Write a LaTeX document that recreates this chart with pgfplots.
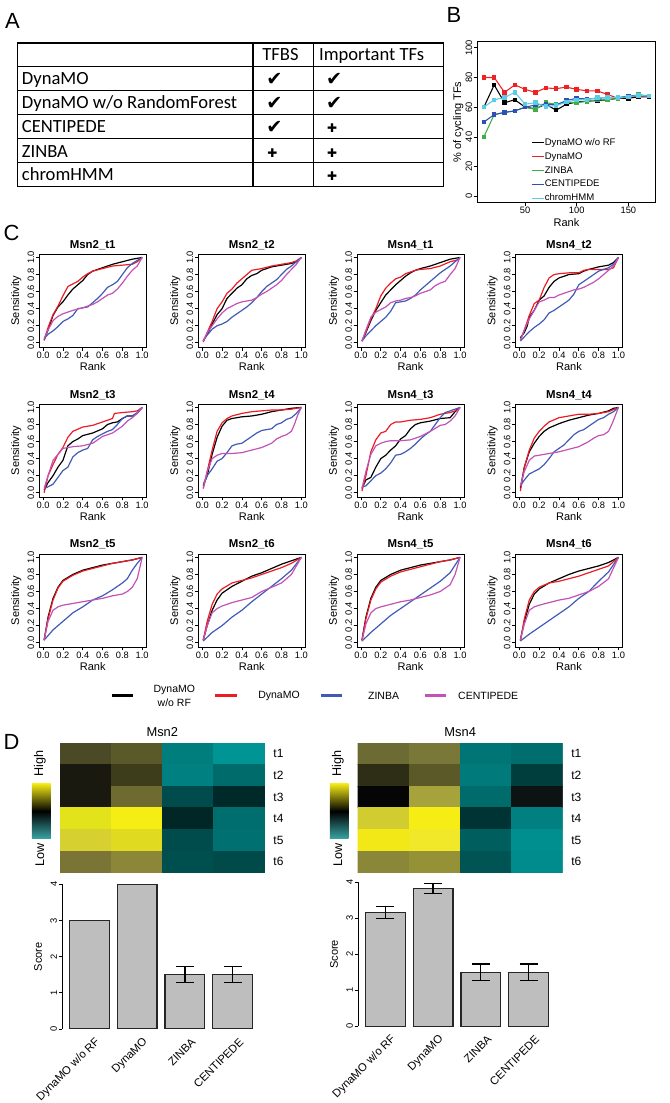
\documentclass[border=0pt]{standalone}
\usepackage{pgfplots}
\pgfplotsset{compat=1.18}
\usepackage{fontspec}
\setmainfont{Liberation Sans}
\newfontfamily\tabfont{Carlito}
\newfontfamily\symfont{DejaVu Sans}
\newcommand\fs[1]{\fontsize{#1}{#1}\selectfont}

\definecolor{cred}{HTML}{ED1C24}
\definecolor{cblue}{HTML}{3F5BB5}
\definecolor{cmag}{HTML}{C252B5}
\definecolor{bred}{HTML}{EE2222}
\definecolor{bgreen}{HTML}{3CB043}
\definecolor{bblue}{HTML}{2F4FB5}
\definecolor{bcyan}{HTML}{5CCBE8}
\definecolor{bargray}{HTML}{BEBEBE}
\definecolor{keyyel}{HTML}{F2E816}
\definecolor{keyteal}{HTML}{3AA3A3}

\pgfplotsset{
  rstyle/.style={
    scale only axis,
    tick align=outside,
    xtick pos=left, ytick pos=left,
    major tick length=2.6pt,
    /pgf/number format/assume math mode=true,
    tick label style={font=\fs{7}},
    label style={font=\fs{8.3}},
    yticklabel style={rotate=90, anchor=south, inner sep=1pt},
    xticklabel style={inner sep=1pt},
    axis line style={line width=0.7pt},
    every tick/.style={black, line width=0.5pt},
  },
  roc/.style={rstyle, anchor=north west,
    width=80.55pt, height=70pt,
    xmin=-0.04, xmax=1.04, ymin=-0.05, ymax=1.04,
    xtick={0,0.2,0.4,0.6,0.8,1}, ytick={0,0.2,0.4,0.6,0.8,1},
    tick label style={/pgf/number format/.cd, fixed, fixed zerofill, precision=1, /tikz/.cd},
    xlabel=Rank, ylabel=Sensitivity,
    xlabel style={at={([yshift=-15pt]axis description cs:0.5,0)}, anchor=center},
    ylabel style={at={([xshift=-17.25pt]axis description cs:0,0.5)}, anchor=center},
    title style={at={(0.5,1)}, anchor=base, yshift=-1.5pt, inner sep=0pt, font=\bfseries\fs{8.6}},
    every axis plot/.append style={line width=0.9pt, mark=none},
  },
  heat/.style={anchor=north west, scale only axis, width=154.3pt, height=97.6pt,
    xmin=-0.5, xmax=3.5, ymin=-0.5, ymax=5.5, y dir=reverse,
    axis line style={draw=none}, xtick=\empty,
    ytick={0,1,2,3,4,5}, yticklabels={t1,t2,t3,t4,t5,t6},
    yticklabel pos=right, ytick pos=right, major tick length=0pt,
    yticklabel style={anchor=west, xshift=3pt, font=\fs{9}},
    title style={at={(0.5,1)}, anchor=center, yshift=2pt, font=\fs{9.7}},
  },
  bars/.style={rstyle, anchor=south west, width=149pt, height=108.9pt,
    xmin=0.016, xmax=4.984, ymin=0, ymax=4,
    axis x line*=bottom, axis y line*=left, axis line style={-},
    x axis line style={draw=none}, xtick style={draw=none},
    ytick={0,1,2,3,4},
    xtick={0.92,2.12,3.32,4.52},
    xticklabels={DynaMO w/o RF,DynaMO,ZINBA,CENTIPEDE},
    xticklabel style={rotate=45, anchor=east, inner sep=0pt, font=\fs{8.5}},
    xticklabel shift=5.8pt,
    ylabel=Score,
    ylabel style={at={([xshift=-18pt]axis description cs:0,0.5)}, anchor=center},
  },
  barst/.style={ybar, bar width=1, bar shift=0pt, fill=bargray, draw=black!85, line width=0.9pt},
  errst/.style={error bars/.cd, y dir=both, y explicit,
    error bar style={line width=0.9pt, black},
    error mark options={rotate=90, line width=0.9pt, mark size=6.75pt, black}},
}

\begin{document}
\begin{tikzpicture}
\begin{scope}[x=0.75pt,y=-0.75pt]
\useasboundingbox (0,0) rectangle (672,1103);
% panel letters
\node[font=\fs{16.5}] at (12.5,21.5) {A};
\node[font=\fs{16.5}] at (455.5,15) {B};
\node[font=\fs{16.5}] at (11.5,234) {C};
\node[font=\fs{16.5}] at (11.5,745) {D};
% table A
\draw[line width=1.1pt] (17.3,43.3) rectangle (445,187.3);
\foreach \yy in {66.7,90.7,115,139,163.3} \draw[line width=0.9pt] (17.3,\yy) -- (445,\yy);
\foreach \xx in {254,314.3} \draw[line width=0.9pt] (\xx,43.3) -- (\xx,187.3);
\begin{scope}[every node/.style={anchor=base west, inner sep=0pt, font=\tabfont\fs{14}}]
\node at (263,61) {TFBS};
\node at (320,61) {Important TFs};
\node at (21.7,85) {DynaMO};
\node at (21.7,109) {DynaMO w/o RandomForest};
\node at (21.7,133.3) {CENTIPEDE};
\node at (21.7,157.6) {ZINBA};
\node at (21.7,181.6) {chromHMM};
\end{scope}
\begin{scope}[every node/.style={anchor=base west, inner sep=0pt}]
\node[font=\symfont\fs{14.5}] at (267,85.5) {✔};
\node[font=\symfont\fs{14.5}] at (267,109.5) {✔};
\node[font=\symfont\fs{14.5}] at (267,133.8) {✔};
\node[font=\symfont\fs{9}] at (268,157.6) {✚};
\node[font=\symfont\fs{14.5}] at (327,85.5) {✔};
\node[font=\symfont\fs{14.5}] at (327,109.5) {✔};
\node[font=\symfont\fs{9}] at (328,133.3) {✚};
\node[font=\symfont\fs{9}] at (328,157.6) {✚};
\node[font=\symfont\fs{9}] at (328,181.6) {✚};
\end{scope}
% legend C
\draw[black, line width=2.5pt] (112,698) -- (133,698);
\node[align=center, font=\fontsize{7.9}{10.5}\selectfont] at (175,698) {DynaMO\\w/o RF};
\draw[cred, line width=2.5pt] (216,698) -- (238,698);
\node[font=\fs{7.9}] at (280,698) {DynaMO};
\draw[cblue, line width=2.5pt] (322,698) -- (343,698);
\node[font=\fs{7.9}] at (385,698) {ZINBA};
\draw[cmag, line width=2.5pt] (427,698) -- (448,698);
\node[font=\fs{7.9}] at (490,698) {CENTIPEDE};
% colour keys D
\shade[top color=keyyel, bottom color=keyteal, middle color=black] (32,786.7) rectangle (51,841.7);
\node[rotate=90, font=\fs{9.5}] at (40,766.5) {High};
\node[rotate=90, font=\fs{9.5}] at (40,858.5) {Low};
\shade[top color=keyyel, bottom color=keyteal, middle color=black] (331,786.7) rectangle (350,841.7);
\node[rotate=90, font=\fs{9.5}] at (339,766.5) {High};
\node[rotate=90, font=\fs{9.5}] at (339,858.5) {Low};
\end{scope}

% ---------- panel B
\begin{axis}[rstyle, at={(479*0.75pt,-203*0.75pt)}, anchor=south west,
  width=134.25pt, height=120.75pt,
  xmin=3.6, xmax=176.4, ymin=-4, ymax=104,
  xtick={50,100,150}, ytick={0,20,40,60,80,100},
  xlabel=Rank, ylabel={\% of cycling TFs},
  xlabel style={at={([yshift=-15.2pt]axis description cs:0.5,0)}, anchor=center},
  ylabel style={at={([xshift=-14.25pt]axis description cs:0,0.5)}, anchor=center},
  every axis plot/.append style={line width=0.8pt, mark=square*, mark size=1.3pt},
  legend image code/.code={\draw[#1, mark=none, line width=0.9pt] (0pt,0pt) -- (9pt,0pt);},
  legend cell align=left,
  legend style={draw=none, fill=none, at={(0.30,0.405)}, anchor=north west,
    font=\fs{7.2}, inner sep=0pt, row sep=2.4pt,
    nodes={inner sep=0.5pt, text height=5.5pt, text depth=1.5pt}},
]
\addplot[black] coordinates {(10,60) (20,75) (30,63) (40,65) (50,60) (60,59) (70,62) (80,58) (90,62) (100,63.5) (110,64) (120,64.5) (130,65) (140,66) (150,66) (160,67) (170,67)};
\addplot[bred] coordinates {(10,80) (20,80) (30,70) (40,75) (50,72) (60,70) (70,73) (80,72.5) (90,73.5) (100,72) (110,71) (120,71) (130,68.5) (140,66) (150,67) (160,67.5) (170,67.5)};
\addplot[bgreen] coordinates {(10,40) (20,55) (30,56.5) (40,57.5) (50,60) (60,58.5) (70,63) (80,62) (90,63.5) (100,63) (110,64) (120,65) (130,65) (140,66) (150,67) (160,68.5) (170,67.5)};
\addplot[bblue] coordinates {(10,50) (20,55) (30,56.5) (40,57.5) (50,60) (60,61.5) (70,62) (80,61.5) (90,64.5) (100,66) (110,65.5) (120,66) (130,66.5) (140,66.5) (150,67.5) (160,68) (170,67.5)};
\addplot[bcyan] coordinates {(10,60) (20,65) (30,66.5) (40,70) (50,62) (60,63) (70,60.5) (80,61) (90,63.5) (100,65) (110,65) (120,66.5) (130,66.5) (140,66.5) (150,67) (160,68) (170,67.5)};
\legend{DynaMO w/o RF,DynaMO,ZINBA,CENTIPEDE,chromHMM}
\end{axis}

% ---------- panel C, row 1
\begin{axis}[roc, at={(39.3*0.75pt,-255*0.75pt)}, title={Msn2\_t1}]
\addplot[black] coordinates {(0.01,0.03) (0.05,0.15) (0.1,0.32) (0.15,0.42) (0.2,0.48) (0.25,0.56) (0.3,0.63) (0.35,0.68) (0.4,0.73) (0.45,0.8) (0.5,0.84) (0.6,0.88) (0.7,0.92) (0.8,0.95) (0.9,0.98) (1,1)};
\addplot[cred] coordinates {(0.01,0.03) (0.05,0.18) (0.1,0.33) (0.15,0.43) (0.2,0.55) (0.25,0.66) (0.3,0.69) (0.35,0.72) (0.4,0.77) (0.45,0.81) (0.5,0.84) (0.6,0.87) (0.7,0.9) (0.8,0.91) (0.9,0.92) (0.95,0.95) (1,1)};
\addplot[cblue] coordinates {(0.01,0.05) (0.05,0.1) (0.1,0.14) (0.15,0.19) (0.2,0.25) (0.25,0.28) (0.3,0.32) (0.35,0.4) (0.45,0.42) (0.5,0.47) (0.55,0.52) (0.6,0.58) (0.65,0.65) (0.7,0.68) (0.75,0.72) (0.8,0.8) (0.85,0.88) (0.9,0.93) (1,1)};
\addplot[cmag] coordinates {(0.01,0.05) (0.05,0.15) (0.1,0.26) (0.15,0.31) (0.2,0.34) (0.3,0.38) (0.4,0.41) (0.5,0.45) (0.55,0.48) (0.6,0.52) (0.65,0.56) (0.7,0.58) (0.75,0.63) (0.8,0.7) (0.85,0.78) (0.9,0.85) (0.95,0.9) (1,1)};
\end{axis}
\begin{axis}[roc, at={(199*0.75pt,-255*0.75pt)}, title={Msn2\_t2}]
\addplot[black] coordinates {(0.01,0.02) (0.05,0.1) (0.1,0.22) (0.15,0.33) (0.2,0.4) (0.25,0.52) (0.3,0.58) (0.35,0.64) (0.4,0.68) (0.45,0.75) (0.5,0.79) (0.55,0.81) (0.6,0.85) (0.7,0.89) (0.8,0.91) (0.9,0.93) (0.95,0.95) (1,1)};
\addplot[cred] coordinates {(0.01,0.01) (0.05,0.12) (0.1,0.25) (0.15,0.4) (0.2,0.48) (0.25,0.58) (0.3,0.63) (0.35,0.7) (0.4,0.75) (0.45,0.8) (0.5,0.85) (0.6,0.87) (0.7,0.9) (0.8,0.92) (0.9,0.94) (0.95,0.96) (1,1)};
\addplot[cblue] coordinates {(0.01,0.03) (0.05,0.09) (0.1,0.16) (0.15,0.2) (0.2,0.22) (0.25,0.25) (0.3,0.3) (0.35,0.34) (0.4,0.38) (0.45,0.42) (0.5,0.47) (0.55,0.53) (0.6,0.6) (0.65,0.66) (0.7,0.7) (0.75,0.74) (0.8,0.8) (0.85,0.86) (0.9,0.9) (1,1)};
\addplot[cmag] coordinates {(0.01,0.02) (0.05,0.12) (0.1,0.2) (0.15,0.28) (0.2,0.35) (0.25,0.4) (0.3,0.43) (0.35,0.46) (0.4,0.48) (0.45,0.49) (0.5,0.5) (0.55,0.53) (0.6,0.57) (0.65,0.6) (0.7,0.64) (0.75,0.68) (0.8,0.73) (0.85,0.8) (0.9,0.86) (0.95,0.92) (1,1)};
\end{axis}
\begin{axis}[roc, at={(358.3*0.75pt,-255*0.75pt)}, title={Msn4\_t1}]
\addplot[black] coordinates {(0.01,0.02) (0.05,0.12) (0.1,0.26) (0.15,0.38) (0.2,0.47) (0.25,0.56) (0.3,0.62) (0.35,0.68) (0.4,0.73) (0.45,0.78) (0.5,0.82) (0.55,0.85) (0.6,0.87) (0.7,0.9) (0.8,0.94) (0.9,0.98) (0.95,0.99) (1,1)};
\addplot[cred] coordinates {(0.01,0.02) (0.05,0.13) (0.1,0.28) (0.15,0.4) (0.2,0.55) (0.25,0.64) (0.3,0.7) (0.35,0.75) (0.4,0.77) (0.45,0.81) (0.5,0.83) (0.55,0.85) (0.6,0.86) (0.7,0.87) (0.8,0.9) (0.9,0.95) (0.97,0.97) (1,1)};
\addplot[cblue] coordinates {(0.01,0.02) (0.05,0.08) (0.1,0.14) (0.15,0.2) (0.2,0.25) (0.25,0.3) (0.3,0.37) (0.35,0.47) (0.4,0.48) (0.45,0.49) (0.5,0.52) (0.55,0.56) (0.6,0.62) (0.65,0.67) (0.7,0.72) (0.75,0.77) (0.8,0.82) (0.85,0.86) (0.9,0.9) (1,1)};
\addplot[cmag] coordinates {(0.01,0.02) (0.05,0.15) (0.1,0.3) (0.15,0.36) (0.2,0.39) (0.25,0.42) (0.3,0.47) (0.35,0.49) (0.4,0.5) (0.45,0.52) (0.5,0.53) (0.55,0.55) (0.6,0.58) (0.65,0.6) (0.7,0.62) (0.75,0.67) (0.8,0.7) (0.85,0.72) (0.9,0.8) (0.95,0.87) (1,1)};
\end{axis}
\begin{axis}[roc, at={(517.3*0.75pt,-255*0.75pt)}, title={Msn4\_t2}]
\addplot[black] coordinates {(0.01,0.06) (0.05,0.12) (0.08,0.2) (0.1,0.3) (0.15,0.38) (0.2,0.5) (0.25,0.55) (0.3,0.65) (0.35,0.72) (0.4,0.76) (0.45,0.78) (0.5,0.8) (0.6,0.81) (0.65,0.84) (0.7,0.86) (0.8,0.89) (0.9,0.91) (0.95,0.94) (1,1)};
\addplot[cred] coordinates {(0.01,0.03) (0.05,0.15) (0.1,0.32) (0.15,0.46) (0.2,0.5) (0.25,0.65) (0.3,0.76) (0.35,0.8) (0.4,0.81) (0.5,0.82) (0.6,0.82) (0.65,0.85) (0.7,0.86) (0.8,0.86) (0.9,0.86) (0.95,0.88) (1,1)};
\addplot[cblue] coordinates {(0.01,0.02) (0.05,0.07) (0.1,0.13) (0.15,0.18) (0.2,0.22) (0.25,0.27) (0.3,0.35) (0.35,0.38) (0.4,0.42) (0.45,0.46) (0.5,0.5) (0.55,0.57) (0.6,0.68) (0.65,0.72) (0.7,0.76) (0.75,0.8) (0.8,0.84) (0.85,0.86) (0.9,0.88) (0.95,0.92) (1,1)};
\addplot[cmag] coordinates {(0.01,0.03) (0.05,0.15) (0.1,0.28) (0.15,0.38) (0.2,0.48) (0.25,0.5) (0.3,0.53) (0.35,0.53) (0.4,0.56) (0.45,0.58) (0.5,0.6) (0.55,0.62) (0.6,0.63) (0.65,0.65) (0.7,0.68) (0.75,0.71) (0.8,0.75) (0.85,0.8) (0.9,0.85) (0.95,0.9) (1,1)};
\end{axis}

% ---------- panel C, row 2
\begin{axis}[roc, at={(39.3*0.75pt,-405.5*0.75pt)}, title={Msn2\_t3}]
\addplot[black] coordinates {(0.01,0.03) (0.05,0.12) (0.1,0.2) (0.15,0.3) (0.2,0.38) (0.25,0.55) (0.3,0.6) (0.35,0.63) (0.4,0.67) (0.5,0.7) (0.6,0.75) (0.65,0.8) (0.7,0.82) (0.75,0.83) (0.8,0.87) (0.85,0.9) (0.9,0.9) (0.95,0.93) (1,1)};
\addplot[cred] coordinates {(0.01,0.0) (0.03,0.1) (0.05,0.2) (0.1,0.33) (0.15,0.45) (0.2,0.53) (0.25,0.65) (0.3,0.72) (0.4,0.77) (0.5,0.79) (0.6,0.83) (0.65,0.85) (0.7,0.87) (0.72,0.93) (0.8,0.94) (0.9,0.95) (0.95,0.96) (1,1)};
\addplot[cblue] coordinates {(0.01,0.05) (0.05,0.07) (0.1,0.1) (0.15,0.18) (0.2,0.26) (0.25,0.3) (0.3,0.42) (0.35,0.47) (0.4,0.5) (0.45,0.52) (0.5,0.62) (0.55,0.66) (0.6,0.69) (0.65,0.72) (0.7,0.74) (0.75,0.8) (0.8,0.87) (0.85,0.9) (0.9,0.9) (0.95,0.94) (1,1)};
\addplot[cmag] coordinates {(0.01,0.05) (0.05,0.2) (0.1,0.38) (0.15,0.45) (0.2,0.52) (0.25,0.53) (0.3,0.54) (0.4,0.55) (0.5,0.58) (0.55,0.62) (0.6,0.66) (0.7,0.7) (0.8,0.78) (0.85,0.84) (0.9,0.88) (0.95,0.93) (1,1)};
\end{axis}
\begin{axis}[roc, at={(199*0.75pt,-405.5*0.75pt)}, title={Msn2\_t4}]
\addplot[black] coordinates {(0.01,0.08) (0.05,0.2) (0.1,0.45) (0.15,0.65) (0.2,0.78) (0.25,0.85) (0.3,0.87) (0.4,0.89) (0.5,0.9) (0.6,0.92) (0.7,0.95) (0.8,0.97) (0.9,0.99) (1,1)};
\addplot[cred] coordinates {(0.01,0.05) (0.05,0.25) (0.1,0.5) (0.15,0.72) (0.2,0.82) (0.25,0.87) (0.3,0.9) (0.4,0.93) (0.5,0.95) (0.6,0.96) (0.7,0.97) (0.8,0.97) (0.9,0.98) (1,1)};
\addplot[cblue] coordinates {(0.01,0.1) (0.05,0.2) (0.1,0.28) (0.15,0.37) (0.2,0.4) (0.25,0.47) (0.3,0.55) (0.35,0.57) (0.4,0.58) (0.45,0.62) (0.5,0.66) (0.55,0.7) (0.6,0.73) (0.7,0.75) (0.75,0.8) (0.8,0.82) (0.85,0.86) (0.9,0.88) (0.95,0.93) (1,1)};
\addplot[cmag] coordinates {(0.01,0.05) (0.05,0.25) (0.1,0.4) (0.15,0.44) (0.2,0.46) (0.3,0.46) (0.4,0.47) (0.5,0.5) (0.6,0.53) (0.7,0.58) (0.75,0.63) (0.8,0.66) (0.85,0.68) (0.9,0.72) (0.93,0.8) (0.96,0.9) (1,1)};
\end{axis}
\begin{axis}[roc, at={(358.3*0.75pt,-405.5*0.75pt)}, title={Msn4\_t3}]
\addplot[black] coordinates {(0.01,0.05) (0.05,0.15) (0.1,0.18) (0.15,0.3) (0.2,0.4) (0.25,0.44) (0.3,0.5) (0.35,0.55) (0.4,0.63) (0.45,0.67) (0.5,0.75) (0.55,0.8) (0.6,0.82) (0.7,0.84) (0.8,0.87) (0.9,0.88) (0.95,0.95) (1,1)};
\addplot[cred] coordinates {(0.01,0.02) (0.05,0.2) (0.1,0.48) (0.15,0.62) (0.2,0.7) (0.25,0.72) (0.3,0.8) (0.35,0.83) (0.4,0.83) (0.5,0.85) (0.6,0.86) (0.7,0.88) (0.8,0.92) (0.9,0.94) (0.95,0.96) (1,1)};
\addplot[cblue] coordinates {(0.01,0.07) (0.05,0.08) (0.1,0.14) (0.15,0.2) (0.2,0.23) (0.25,0.28) (0.3,0.35) (0.35,0.44) (0.4,0.45) (0.45,0.48) (0.5,0.52) (0.55,0.57) (0.6,0.63) (0.65,0.68) (0.7,0.72) (0.75,0.8) (0.8,0.88) (0.85,0.94) (0.9,0.96) (1,1)};
\addplot[cmag] coordinates {(0.01,0.05) (0.05,0.25) (0.1,0.45) (0.15,0.55) (0.2,0.58) (0.25,0.6) (0.3,0.61) (0.4,0.61) (0.5,0.62) (0.6,0.66) (0.7,0.72) (0.8,0.79) (0.85,0.8) (0.9,0.84) (0.95,0.9) (1,1)};
\end{axis}
\begin{axis}[roc, at={(517.3*0.75pt,-405.5*0.75pt)}, title={Msn4\_t4}]
\addplot[black] coordinates {(0.01,0.05) (0.05,0.3) (0.1,0.48) (0.15,0.58) (0.2,0.66) (0.25,0.72) (0.3,0.76) (0.4,0.81) (0.5,0.85) (0.6,0.88) (0.7,0.91) (0.8,0.93) (0.9,0.96) (0.95,0.99) (1,1)};
\addplot[cred] coordinates {(0.01,0.02) (0.05,0.3) (0.1,0.5) (0.15,0.64) (0.2,0.72) (0.25,0.78) (0.3,0.83) (0.4,0.88) (0.5,0.9) (0.6,0.92) (0.7,0.92) (0.8,0.93) (0.9,0.95) (1,1)};
\addplot[cblue] coordinates {(0.01,0.08) (0.05,0.15) (0.1,0.22) (0.15,0.25) (0.2,0.28) (0.25,0.33) (0.3,0.4) (0.35,0.48) (0.4,0.52) (0.45,0.56) (0.5,0.62) (0.55,0.68) (0.6,0.72) (0.65,0.74) (0.7,0.78) (0.75,0.82) (0.8,0.86) (0.85,0.88) (0.9,0.92) (0.95,0.95) (1,1)};
\addplot[cmag] coordinates {(0.01,0.08) (0.05,0.25) (0.1,0.38) (0.15,0.43) (0.2,0.44) (0.3,0.46) (0.4,0.48) (0.5,0.51) (0.6,0.54) (0.65,0.57) (0.7,0.6) (0.75,0.64) (0.8,0.67) (0.85,0.68) (0.9,0.72) (0.94,0.82) (1,1)};
\end{axis}

% ---------- panel C, row 3
\begin{axis}[roc, at={(39.3*0.75pt,-556*0.75pt)}, title={Msn2\_t5}]
\addplot[black] coordinates {(0.01,0.03) (0.05,0.3) (0.1,0.52) (0.15,0.65) (0.2,0.73) (0.3,0.8) (0.4,0.85) (0.5,0.88) (0.6,0.91) (0.7,0.93) (0.8,0.95) (0.9,0.97) (1,1)};
\addplot[cred] coordinates {(0.01,0.03) (0.05,0.28) (0.1,0.5) (0.15,0.64) (0.2,0.72) (0.3,0.79) (0.4,0.84) (0.5,0.87) (0.6,0.9) (0.7,0.93) (0.8,0.95) (0.9,0.97) (1,1)};
\addplot[cblue] coordinates {(0.01,0.03) (0.1,0.15) (0.2,0.25) (0.3,0.35) (0.4,0.42) (0.5,0.5) (0.6,0.55) (0.7,0.62) (0.8,0.7) (0.85,0.75) (0.9,0.85) (0.95,0.93) (1,1)};
\addplot[cmag] coordinates {(0.01,0.03) (0.05,0.25) (0.1,0.38) (0.15,0.42) (0.2,0.44) (0.3,0.46) (0.4,0.48) (0.5,0.5) (0.6,0.52) (0.7,0.55) (0.8,0.57) (0.85,0.6) (0.9,0.65) (0.95,0.75) (1,1)};
\end{axis}
\begin{axis}[roc, at={(199*0.75pt,-556*0.75pt)}, title={Msn2\_t6}]
\addplot[black] coordinates {(0.01,0.03) (0.05,0.2) (0.1,0.38) (0.15,0.5) (0.2,0.58) (0.3,0.66) (0.4,0.72) (0.5,0.78) (0.6,0.82) (0.7,0.87) (0.8,0.92) (0.9,0.96) (1,1)};
\addplot[cred] coordinates {(0.01,0.03) (0.05,0.25) (0.1,0.45) (0.15,0.57) (0.2,0.63) (0.3,0.7) (0.4,0.73) (0.5,0.76) (0.6,0.8) (0.7,0.84) (0.8,0.88) (0.9,0.93) (1,1)};
\addplot[cblue] coordinates {(0.01,0.02) (0.1,0.12) (0.2,0.2) (0.3,0.3) (0.4,0.38) (0.5,0.48) (0.6,0.57) (0.7,0.66) (0.8,0.75) (0.9,0.85) (1,1)};
\addplot[cmag] coordinates {(0.01,0.03) (0.05,0.2) (0.1,0.35) (0.15,0.4) (0.2,0.43) (0.3,0.47) (0.4,0.5) (0.5,0.53) (0.6,0.6) (0.7,0.65) (0.8,0.7) (0.9,0.8) (1,1)};
\end{axis}
\begin{axis}[roc, at={(358.3*0.75pt,-556*0.75pt)}, title={Msn4\_t5}]
\addplot[black] coordinates {(0.01,0.03) (0.05,0.3) (0.1,0.52) (0.15,0.65) (0.2,0.73) (0.3,0.8) (0.4,0.85) (0.5,0.88) (0.6,0.91) (0.7,0.93) (0.8,0.95) (0.9,0.97) (1,1)};
\addplot[cred] coordinates {(0.01,0.03) (0.05,0.28) (0.1,0.5) (0.15,0.63) (0.2,0.71) (0.3,0.78) (0.4,0.83) (0.5,0.86) (0.6,0.89) (0.7,0.92) (0.8,0.95) (0.9,0.97) (1,1)};
\addplot[cblue] coordinates {(0.01,0.02) (0.1,0.12) (0.2,0.22) (0.3,0.32) (0.4,0.4) (0.5,0.48) (0.6,0.56) (0.7,0.64) (0.8,0.72) (0.9,0.82) (1,1)};
\addplot[cmag] coordinates {(0.01,0.02) (0.05,0.22) (0.1,0.35) (0.15,0.4) (0.2,0.42) (0.3,0.45) (0.4,0.48) (0.5,0.5) (0.6,0.53) (0.7,0.56) (0.8,0.6) (0.9,0.68) (0.95,0.8) (1,1)};
\end{axis}
\begin{axis}[roc, at={(517.3*0.75pt,-556*0.75pt)}, title={Msn4\_t6}]
\addplot[black] coordinates {(0.01,0.03) (0.05,0.25) (0.1,0.45) (0.15,0.57) (0.2,0.63) (0.3,0.7) (0.4,0.75) (0.5,0.8) (0.6,0.84) (0.7,0.87) (0.8,0.9) (0.9,0.94) (1,1)};
\addplot[cred] coordinates {(0.01,0.02) (0.05,0.28) (0.1,0.5) (0.15,0.6) (0.2,0.65) (0.3,0.7) (0.4,0.72) (0.5,0.75) (0.6,0.78) (0.7,0.82) (0.8,0.86) (0.9,0.9) (1,1)};
\addplot[cblue] coordinates {(0.01,0.02) (0.1,0.1) (0.2,0.18) (0.3,0.26) (0.4,0.34) (0.5,0.42) (0.6,0.52) (0.7,0.6) (0.8,0.72) (0.9,0.83) (1,1)};
\addplot[cmag] coordinates {(0.01,0.03) (0.05,0.22) (0.1,0.38) (0.15,0.42) (0.2,0.44) (0.3,0.47) (0.4,0.5) (0.5,0.52) (0.6,0.56) (0.7,0.6) (0.8,0.66) (0.9,0.75) (1,1)};
\end{axis}

% ---------- panel D heatmaps
\begin{axis}[heat, at={(60*0.75pt,-745.6*0.75pt)}, title={Msn2}]
\addplot[matrix plot*, mesh/cols=4, mesh/color input=explicit] table[meta=c] {
x y c
0 0 rgb=0.30,0.29,0.15
1 0 rgb=0.35,0.35,0.16
2 0 rgb=0,0.49,0.49
3 0 rgb=0,0.58,0.58
0 1 rgb=0.10,0.10,0.06
1 1 rgb=0.24,0.24,0.11
2 1 rgb=0,0.50,0.50
3 1 rgb=0,0.42,0.42
0 2 rgb=0.10,0.10,0.06
1 2 rgb=0.43,0.42,0.19
2 2 rgb=0,0.30,0.30
3 2 rgb=0,0.16,0.16
0 3 rgb=0.89,0.89,0.11
1 3 rgb=0.96,0.93,0.08
2 3 rgb=0,0.15,0.15
3 3 rgb=0,0.43,0.43
0 4 rgb=0.84,0.82,0.19
1 4 rgb=0.88,0.86,0.13
2 4 rgb=0,0.30,0.30
3 4 rgb=0,0.44,0.44
0 5 rgb=0.48,0.46,0.21
1 5 rgb=0.55,0.53,0.22
2 5 rgb=0,0.31,0.31
3 5 rgb=0,0.29,0.29
};
\end{axis}
\begin{axis}[heat, at={(359*0.75pt,-745.6*0.75pt)}, title={Msn4}]
\addplot[matrix plot*, mesh/cols=4, mesh/color input=explicit] table[meta=c] {
x y c
0 0 rgb=0.42,0.42,0.20
1 0 rgb=0.48,0.47,0.22
2 0 rgb=0,0.46,0.46
3 0 rgb=0,0.43,0.43
0 1 rgb=0.18,0.18,0.09
1 1 rgb=0.36,0.35,0.16
2 1 rgb=0,0.48,0.48
3 1 rgb=0,0.24,0.24
0 2 rgb=0.02,0.02,0.02
1 2 rgb=0.65,0.64,0.24
2 2 rgb=0,0.42,0.42
3 2 rgb=0.05,0.07,0.07
0 3 rgb=0.82,0.80,0.19
1 3 rgb=0.96,0.93,0.08
2 3 rgb=0,0.20,0.20
3 3 rgb=0,0.50,0.50
0 4 rgb=0.95,0.91,0.09
1 4 rgb=0.94,0.91,0.16
2 4 rgb=0,0.37,0.37
3 4 rgb=0,0.56,0.56
0 5 rgb=0.54,0.53,0.22
1 5 rgb=0.58,0.57,0.21
2 5 rgb=0,0.33,0.33
3 5 rgb=0,0.55,0.55
};
\end{axis}

% ---------- panel D bars
\begin{axis}[bars, at={(62.3*0.75pt,-1032.7*0.75pt)}]
\addplot[barst] coordinates {(0.7,3) (1.9,4)};
\addplot[barst, errst] coordinates {(3.1,1.5) +- (0,0.22) (4.3,1.5) +- (0,0.22)};
\end{axis}
\begin{axis}[bars, at={(359.3*0.75pt,-1030*0.75pt)}, height=108.3pt]
\addplot[barst, errst] coordinates {(0.7,3.17) +- (0,0.17) (1.9,3.83) +- (0,0.15) (3.1,1.5) +- (0,0.23) (4.3,1.5) +- (0,0.23)};
\end{axis}
\end{tikzpicture}
\end{document}
